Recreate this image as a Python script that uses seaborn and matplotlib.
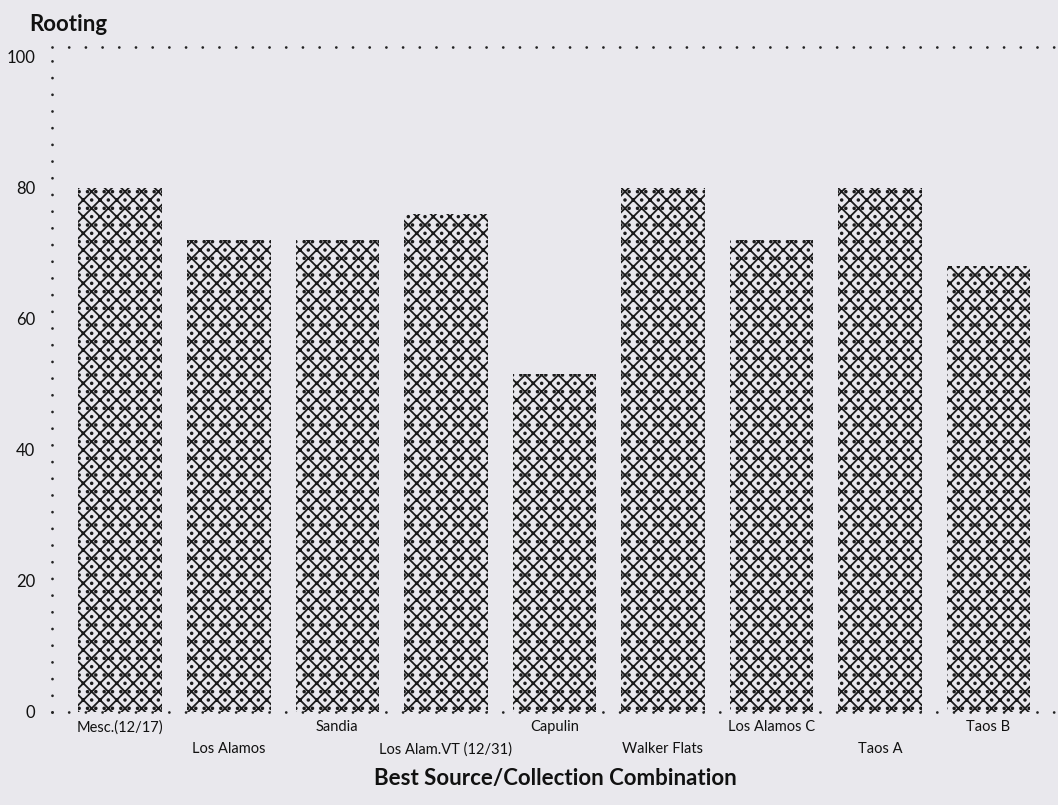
import matplotlib
matplotlib.use("Agg")
import matplotlib.pyplot as plt
import seaborn as sns
import pandas as pd

categories = ["Mesc.(12/17)", "Los Alamos", "Sandia", "Los Alam.VT (12/31)", "Capulin",
              "Walker Flats", "Los Alamos C", "Taos A", "Taos B"]
rooting = [80, 72, 72, 76, 51.5, 80, 72, 80, 68]
yticks = [0, 20, 40, 60, 80, 100]

bg = "#e9e8ed"
sns.set_theme(style="white")
plt.rcParams["font.family"] = ["Lato", "DejaVu Sans"]
plt.rcParams["hatch.linewidth"] = 1.3
plt.rcParams["hatch.color"] = "#1a1a1a"

df = pd.DataFrame({"source": categories, "rooting": rooting})

fig = plt.figure(figsize=(10.58, 8.05), dpi=100, facecolor=bg)
ax = fig.add_axes([0.049, 0.116, 0.951, 0.826])
ax.set_facecolor(bg)

sns.barplot(data=df, x="source", y="rooting", color=bg, width=0.77, ax=ax,
            edgecolor="#1a1a1a", linewidth=0)
for p in ax.patches:
    p.set_hatch("xx..")
    p.set_facecolor(bg)

ax.set_xlim(-0.63, 8.64)
ax.set_ylim(0, 101.5)
ax.set_yticks(yticks)
ax.set_yticklabels([str(v) for v in yticks], fontsize=12)
ax.tick_params(axis="both", length=0, colors="#111111")
ax.tick_params(axis="y", pad=12)

ax.set_xticks(range(len(categories)))
ax.set_xticklabels(categories, fontsize=10.5)
for i, t in enumerate(ax.xaxis.get_major_ticks()):
    t.set_pad(6 if i % 2 == 0 else 22)

for side in ["left", "bottom", "top"]:
    ax.spines[side].set_visible(True)
    ax.spines[side].set_linestyle((0, (0.01, 6)))
    ax.spines[side].set_linewidth(2.0)
    ax.spines[side].set_color("#222222")
    ax.spines[side].set_capstyle("round")
ax.spines["right"].set_visible(False)

ax.set_xlabel("Best Source/Collection Combination", fontsize=16, fontweight="bold",
              color="#111111", labelpad=8)
ax.set_ylabel("")
fig.text(0.028, 0.956, "Rooting", fontsize=16, fontweight="bold", color="#111111",
         ha="left", va="bottom")

fig.savefig("out.png", dpi=100, facecolor=bg)
